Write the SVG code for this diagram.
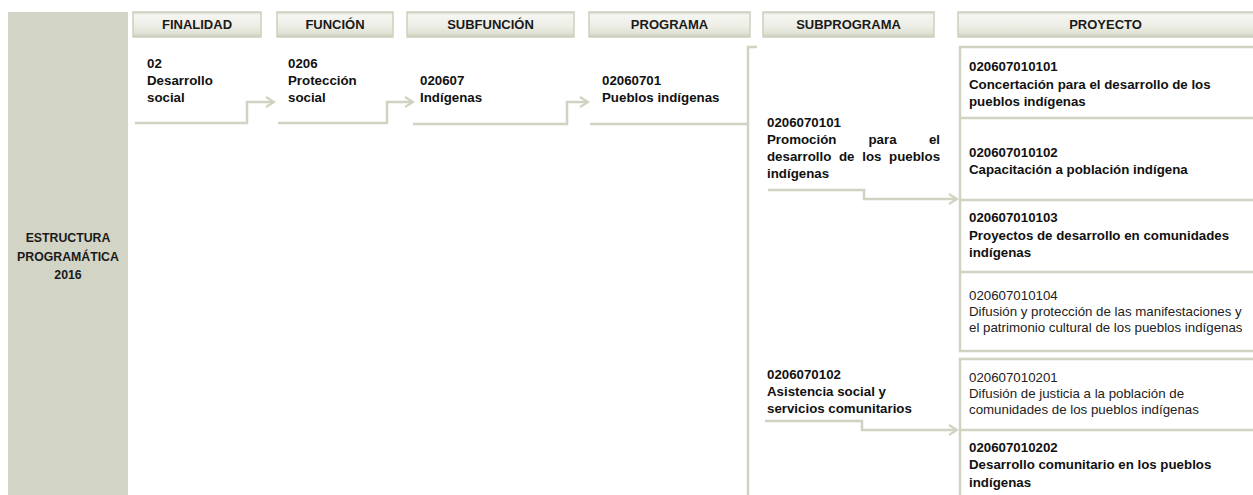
<svg xmlns="http://www.w3.org/2000/svg" width="1253" height="495" viewBox="0 0 1253 495">
<defs>
<linearGradient id="hdr" x1="0" y1="0" x2="0" y2="1">
<stop offset="0" stop-color="#d3d6c6"/>
<stop offset="0.12" stop-color="#f6f6f2"/>
<stop offset="0.55" stop-color="#eeeee7"/>
<stop offset="0.85" stop-color="#e0e2d5"/>
<stop offset="1" stop-color="#c8cbba"/>
</linearGradient>
<marker id="arr" viewBox="-10 -7 12 14" markerWidth="12" markerHeight="14" refX="0" refY="0" orient="auto" markerUnits="userSpaceOnUse">
<path d="M-8,-5 L0,0 L-8,5" fill="none" stroke="#d0d3c2" stroke-width="2.2"/>
</marker>
<style>
.hdr{fill:url(#hdr);stroke:#ccd0bd;stroke-width:1.5}
.ht{font-family:"Liberation Sans",Arial,sans-serif;font-weight:bold;font-size:13px;fill:#1a1a1a;text-anchor:middle}
.b{font-family:"Liberation Sans",Arial,sans-serif;font-weight:bold;font-size:13.3px;fill:#111}
.r{font-family:"Liberation Sans",Arial,sans-serif;font-size:13.3px;fill:#222}
.side{font-family:"Liberation Sans",Arial,sans-serif;font-weight:bold;font-size:12.3px;fill:#1a1a1a;text-anchor:middle}
.ln{fill:none;stroke:#d0d3c2;stroke-width:2.5}
.box{fill:#ffffff;stroke:#d0d3c2;stroke-width:2.5}
</style>
</defs>
<rect width="1253" height="495" fill="#ffffff"/>

<g id="side">
<rect x="8" y="12" width="120" height="485" fill="#d2d4c5"/>
<text class="side" x="68" y="242">ESTRUCTURA</text>
<text class="side" x="68" y="261">PROGRAMÁTICA</text>
<text class="side" x="68" y="279">2016</text>
</g>

<g id="headers">
<g id="h-finalidad"><rect class="hdr" x="133" y="12" width="128" height="25"/><text class="ht" x="197" y="29">FINALIDAD</text></g>
<g id="h-funcion"><rect class="hdr" x="277" y="12" width="116" height="25"/><text class="ht" x="335" y="29">FUNCIÓN</text></g>
<g id="h-subfuncion"><rect class="hdr" x="407" y="12" width="167" height="25"/><text class="ht" x="490.5" y="29">SUBFUNCIÓN</text></g>
<g id="h-programa"><rect class="hdr" x="589" y="12" width="161" height="25"/><text class="ht" x="669.5" y="29">PROGRAMA</text></g>
<g id="h-subprograma"><rect class="hdr" x="763" y="12" width="171" height="25"/><text class="ht" x="848.5" y="29">SUBPROGRAMA</text></g>
<g id="h-proyecto"><rect class="hdr" x="958" y="12" width="300" height="25"/><text class="ht" x="1105.5" y="29">PROYECTO</text></g>
</g>

<g id="connectors">
<path class="ln" d="M135,123 H247 V102 H274" marker-end="url(#arr)"/>
<path class="ln" d="M278,123 H387 V102 H413" marker-end="url(#arr)"/>
<path class="ln" d="M413,124 H567 V102 H588" marker-end="url(#arr)"/>
<path class="ln" d="M590,124 H748"/>
<path class="ln" d="M757,47 H748 V497"/>
<path class="ln" d="M768,190 H864 V199 H957" marker-end="url(#arr)"/>
<path class="ln" d="M765,421 H862 V430 H957" marker-end="url(#arr)"/>
</g>

<g id="n-finalidad">
<text class="b" x="147" y="68">02</text>
<text class="b" x="147" y="85">Desarrollo</text>
<text class="b" x="147" y="102">social</text>
</g>
<g id="n-funcion">
<text class="b" x="288" y="68">0206</text>
<text class="b" x="288" y="85">Protección</text>
<text class="b" x="288" y="102">social</text>
</g>
<g id="n-subfuncion">
<text class="b" x="420" y="85">020607</text>
<text class="b" x="420" y="102">Indígenas</text>
</g>
<g id="n-programa">
<text class="b" x="602" y="85">02060701</text>
<text class="b" x="602" y="102">Pueblos indígenas</text>
</g>

<g id="n-sub1">
<text class="b" x="767" y="127">0206070101</text>
<text class="b" x="767" y="144">Promoción</text>
<text class="b" x="868.5" y="144">para</text>
<text class="b" x="940" y="144" text-anchor="end">el</text>
<text class="b" x="767" y="161" word-spacing="4">desarrollo de los pueblos</text>
<text class="b" x="767" y="178">indígenas</text>
</g>
<g id="n-sub2">
<text class="b" x="767" y="379">0206070102</text>
<text class="b" x="767" y="396">Asistencia social y</text>
<text class="b" x="767" y="413">servicios comunitarios</text>
</g>

<g id="proyectos1">
<rect class="box" x="960" y="47" width="300" height="304"/>
<line class="ln" x1="960" y1="118" x2="1253" y2="118"/>
<line class="ln" x1="960" y1="200" x2="1253" y2="200"/>
<line class="ln" x1="960" y1="272" x2="1253" y2="272"/>
</g>
<g id="proyectos2">
<rect class="box" x="960" y="359" width="300" height="140"/>
<line class="ln" x1="960" y1="430" x2="1253" y2="430"/>
</g>

<g id="p101">
<text class="b" x="969" y="71">020607010101</text>
<text class="b" x="969" y="89">Concertación para el desarrollo de los</text>
<text class="b" x="969" y="106">pueblos indígenas</text>
</g>
<g id="p102">
<text class="b" x="969" y="157">020607010102</text>
<text class="b" x="969" y="174">Capacitación a población indígena</text>
</g>
<g id="p103">
<text class="b" x="969" y="222">020607010103</text>
<text class="b" x="969" y="240">Proyectos de desarrollo en comunidades</text>
<text class="b" x="969" y="257">indígenas</text>
</g>
<g id="p104">
<text class="r" x="969" y="300">020607010104</text>
<text class="r" x="969" y="316">Difusión y protección de las manifestaciones y</text>
<text class="r" x="969" y="332">el patrimonio cultural de los pueblos indígenas</text>
</g>
<g id="p201">
<text class="r" x="969" y="382">020607010201</text>
<text class="r" x="969" y="398">Difusión de justicia a la población de</text>
<text class="r" x="969" y="414">comunidades de los pueblos indígenas</text>
</g>
<g id="p202">
<text class="b" x="969" y="452">020607010202</text>
<text class="b" x="969" y="469">Desarrollo comunitario en los pueblos</text>
<text class="b" x="969" y="487">indígenas</text>
</g>
</svg>
